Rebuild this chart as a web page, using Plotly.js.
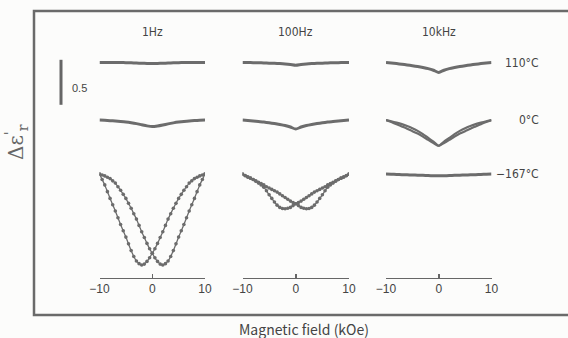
<!DOCTYPE html>
<html>
<head>
<meta charset="utf-8">
<script src="https://cdn.plot.ly/plotly-3.0.1.min.js"></script>
<style>html,body{margin:0;padding:0;background:#fcfcfb;}#chart{width:568px;height:338px;}</style>
</head>
<body>
<div id="chart"></div>
<script>
// ---- data (magnetic field in kOe, Δε'_r relative change) ----
const columns = ["1Hz", "100Hz", "10kHz"];
const temperatures = ["110\u00b0C", "0\u00b0C", "\u2212167\u00b0C"];
const tickValues = [-10, 0, 10];
const tickLabels = ["\u221210", "0", "10"];

const fieldCoarse = [-10,-9,-8,-7,-6,-5,-4,-3,-2,-1,0,1,2,3,4,5,6,7,8,9,10];
const fieldFine = [-10,-9.5,-9,-8.5,-8,-7.5,-7,-6.5,-6,-5.5,-5,-4.5,-4,-3.5,-3,-2.5,-2,-1.5,-1,-0.5,0,
                   0.5,1,1.5,2,2.5,3,3.5,4,4.5,5,5.5,6,6.5,7,7.5,8,8.5,9,9.5,10];

// 1 Hz
const hz1_110 = [0,0,0,0,0,-0.002,-0.004,-0.006,-0.008,-0.01,-0.012,-0.01,-0.008,-0.006,-0.004,-0.002,0,0,0,0,0];
const hz1_0 = [0,-0.003,-0.006,-0.01,-0.015,-0.021,-0.029,-0.039,-0.052,-0.064,-0.072,-0.066,-0.055,-0.042,-0.031,-0.022,-0.015,-0.009,-0.005,-0.002,0];
const hz1_m167_down = [0,-0.06,-0.12,-0.195,-0.27,-0.34,-0.41,-0.485,-0.56,-0.63,-0.70,-0.775,-0.85,-0.915,-0.965,-0.995,-1.01,-1.0,-0.97,-0.93,-0.88,
                       -0.83,-0.77,-0.705,-0.64,-0.57,-0.50,-0.44,-0.38,-0.325,-0.27,-0.225,-0.18,-0.14,-0.10,-0.075,-0.05,-0.035,-0.02,-0.01,0];
const hz1_m167_up = [0,-0.01,-0.02,-0.035,-0.05,-0.075,-0.10,-0.14,-0.18,-0.225,-0.27,-0.325,-0.38,-0.44,-0.50,-0.57,-0.64,-0.705,-0.77,-0.83,-0.88,
                     -0.93,-0.97,-1.0,-1.01,-0.995,-0.965,-0.915,-0.85,-0.775,-0.70,-0.63,-0.56,-0.485,-0.41,-0.34,-0.27,-0.195,-0.12,-0.06,0];

// 100 Hz
const hz100_110 = [0,0,-0.002,-0.003,-0.005,-0.007,-0.009,-0.012,-0.016,-0.022,-0.03,-0.022,-0.016,-0.012,-0.009,-0.007,-0.005,-0.003,-0.002,0,0];
const hz100_0 = [0,-0.005,-0.01,-0.016,-0.022,-0.03,-0.038,-0.048,-0.06,-0.077,-0.10,-0.077,-0.06,-0.048,-0.038,-0.03,-0.022,-0.016,-0.01,-0.005,0];
const hz100_m167_down = [0,-0.015,-0.03,-0.045,-0.06,-0.08,-0.10,-0.12,-0.145,-0.185,-0.23,-0.27,-0.31,-0.345,-0.37,-0.383,-0.385,-0.38,-0.37,-0.35,-0.33,
                         -0.315,-0.30,-0.28,-0.26,-0.24,-0.22,-0.20,-0.185,-0.17,-0.155,-0.14,-0.12,-0.105,-0.09,-0.075,-0.06,-0.045,-0.035,-0.018,0];
const hz100_m167_up = [0,-0.018,-0.035,-0.045,-0.06,-0.075,-0.09,-0.105,-0.12,-0.14,-0.155,-0.17,-0.185,-0.20,-0.22,-0.24,-0.26,-0.28,-0.30,-0.315,-0.33,
                       -0.35,-0.37,-0.38,-0.385,-0.383,-0.37,-0.345,-0.31,-0.27,-0.23,-0.185,-0.145,-0.12,-0.10,-0.08,-0.06,-0.045,-0.03,-0.015,0];

// 10 kHz
const khz10_110 = [0,-0.006,-0.012,-0.019,-0.027,-0.035,-0.044,-0.055,-0.068,-0.086,-0.11,-0.086,-0.068,-0.055,-0.044,-0.035,-0.027,-0.019,-0.012,-0.006,0];
const khz10_0_down = [0,-0.022,-0.045,-0.07,-0.095,-0.123,-0.15,-0.183,-0.22,-0.255,-0.285,-0.24,-0.198,-0.155,-0.12,-0.09,-0.065,-0.045,-0.028,-0.013,0];
const khz10_0_up = [0,-0.013,-0.028,-0.045,-0.065,-0.09,-0.12,-0.155,-0.198,-0.24,-0.285,-0.255,-0.22,-0.183,-0.15,-0.123,-0.095,-0.07,-0.045,-0.022,0];
const khz10_m167 = [0,-0.002,-0.004,-0.006,-0.008,-0.01,-0.012,-0.014,-0.016,-0.018,-0.019,-0.018,-0.016,-0.014,-0.012,-0.01,-0.008,-0.006,-0.004,-0.002,0];

// ---- layout helpers (positions / styles) ----
const rowOffset = [0, -0.64, -1.24];     // vertical stacking of the temperature rows
const pxPerUnit = 90;                     // 0.5 of Δε' = 45 px
const yTop = 62.5 / pxPerUnit;
const yRange = [yTop - 338 / pxPerUnit, yTop];
const gray = "#6c6c6c";

const panels = [
  {col: 0, row: 0, x: fieldCoarse, series: [hz1_110], style: "thick"},
  {col: 0, row: 1, x: fieldCoarse, series: [hz1_0], style: "thick"},
  {col: 0, row: 2, x: fieldFine, series: [hz1_m167_down, hz1_m167_up], style: "dots"},
  {col: 1, row: 0, x: fieldCoarse, series: [hz100_110], style: "thick"},
  {col: 1, row: 1, x: fieldCoarse, series: [hz100_0], style: "thick"},
  {col: 1, row: 2, x: fieldFine, series: [hz100_m167_down, hz100_m167_up], style: "dots"},
  {col: 2, row: 0, x: fieldCoarse, series: [khz10_110], style: "thick"},
  {col: 2, row: 1, x: fieldCoarse, series: [khz10_0_down, khz10_0_up], style: "medium"},
  {col: 2, row: 2, x: fieldCoarse, series: [khz10_m167], style: "thick"}
];

const axisIds = ["x", "x2", "x3"];
const traces = [];
panels.forEach(p => {
  p.series.forEach(vals => {
    const t = {
      x: p.x,
      y: vals.map(v => v + rowOffset[p.row]),
      xaxis: axisIds[p.col], yaxis: "y",
      type: "scatter", hoverinfo: "skip"
    };
    if (p.style === "dots") {
      t.mode = "lines+markers";
      t.line = {color: gray, width: 1.3, shape: "spline", smoothing: 0.6};
      t.marker = {color: gray, size: 3.6};
    } else if (p.style === "medium") {
      t.mode = "lines";
      t.line = {color: gray, width: 2.2, shape: "spline", smoothing: 0.6};
    } else {
      t.mode = "lines";
      t.line = {color: gray, width: 3, shape: "spline", smoothing: 0.6};
    }
    traces.push(t);
  });
});

const W = 568, H = 338;
const axisDomains = [[99.5, 205], [242.5, 349], [386, 491.5]];
const axisY = 1 - 277.5 / H;
const sansFont = "'Liberation Sans', Arial, sans-serif";
const narrowFont = "'DejaVu Sans Condensed', 'Liberation Sans Narrow', 'Liberation Sans', sans-serif";
const axisFont = {family: sansFont, size: 12, color: "#444"};

const layout = {
  width: W, height: H,
  margin: {l: 0, r: 0, t: 0, b: 0, pad: 0},
  paper_bgcolor: "#fcfcfb",
  plot_bgcolor: "rgba(0,0,0,0)",
  showlegend: false,
  font: {family: sansFont, size: 12, color: "#444"},
  yaxis: {domain: [0, 1], range: yRange, visible: false, fixedrange: true},
  annotations: [],
  shapes: []
};
axisDomains.forEach((d, i) => {
  const key = i === 0 ? "xaxis" : "xaxis" + (i + 1);
  layout[key] = {
    domain: [d[0] / W, d[1] / W],
    range: [-10, 10],
    anchor: "free", position: axisY,
    showline: true, linecolor: "#666", linewidth: 1.5,
    ticks: "inside", ticklen: 4, tickwidth: 1.5, tickcolor: "#666",
    tickvals: tickValues, ticktext: tickLabels,
    tickfont: axisFont,
    showgrid: false, zeroline: false, fixedrange: true
  };
  layout.annotations.push({
    text: columns[i], xref: axisIds[i], yref: "paper",
    x: 0, y: 1 - 32 / H, xanchor: "center", yanchor: "middle", showarrow: false,
    font: {family: narrowFont, size: 12, color: "#444"}
  });
});

temperatures.forEach((t, i) => {
  layout.annotations.push({
    text: t, xref: "paper", yref: "y",
    x: 541 / W, y: rowOffset[i], xanchor: "right", yanchor: "middle", showarrow: false,
    font: {family: narrowFont, size: 12, color: "#444"}
  });
});

// scale bar (0.5 of Δε')
layout.shapes.push({
  type: "line", xref: "paper", yref: "y",
  x0: 61 / W, x1: 61 / W, y0: 0.03, y1: 0.03 - 0.5,
  line: {color: "#666", width: 3}
});
layout.annotations.push({
  text: "0.5", xref: "paper", yref: "y", x: 70 / W, y: -0.28,
  xanchor: "left", yanchor: "middle", showarrow: false,
  font: {family: sansFont, size: 11, color: "#444"}
});

// frame
layout.shapes.push({
  type: "rect", xref: "paper", yref: "paper",
  x0: 34 / W, x1: 1.02, y0: 1 - 315 / H, y1: 1 - 11 / H,
  line: {color: "#6a6a6a", width: 2.5}, fillcolor: "rgba(0,0,0,0)"
});

// axis titles
layout.annotations.push({
  text: "\u0394\u03b5<sup>'</sup><sub>r</sub>", xref: "paper", yref: "paper",
  x: 17 / W, y: 1 - 142 / H, xanchor: "center", yanchor: "middle",
  textangle: -90, showarrow: false,
  font: {family: "'DejaVu Serif', 'Liberation Serif', serif", size: 20, color: "#666"}
});
layout.annotations.push({
  text: "Magnetic field (kOe)", xref: "paper", yref: "paper",
  x: 304 / W, y: 1 - 329 / H, xanchor: "center", yanchor: "middle", showarrow: false,
  font: {family: "'Noto Sans CJK JP', 'Noto Sans', sans-serif", size: 14, color: "#444"}
});

Plotly.newPlot("chart", traces, layout, {displayModeBar: false, staticPlot: true});
</script>
</body>
</html>
